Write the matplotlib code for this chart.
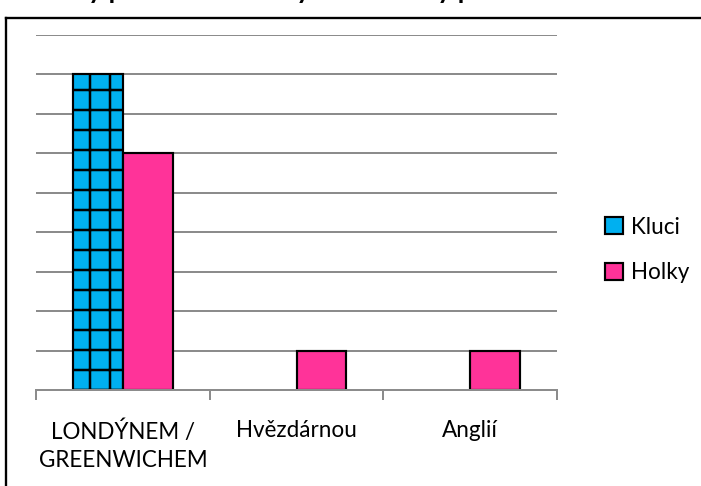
import matplotlib
matplotlib.use("Agg")
import matplotlib.pyplot as plt
from matplotlib.lines import Line2D
import numpy as np

categories = ["LONDÝNEM /\nGREENWICHEM", "Hvězdárnou", "Anglií"]
kluci = [8, 0, 0]
holky = [6, 1, 1]
series_names = ["Kluci", "Holky"]

plt.rcParams['font.family'] = ['Lato', 'DejaVu Sans']
plt.rcParams['hatch.linewidth'] = 1.5
plt.rcParams['hatch.color'] = '#111111'

DPI = 120
fig = plt.figure(figsize=(701 / DPI, 486 / DPI), dpi=DPI)
ax = fig.add_axes([36 / 701, 1 - 390 / 486, (557 - 36) / 701, (390 - 35) / 486])

x = np.arange(len(categories))
w = 0.287
b1 = ax.bar(x - w / 2, kluci, w, color='#00B0F0', edgecolor='black', linewidth=1.3,
            hatch='+', label=series_names[0], zorder=3)
b2 = ax.bar(x + w / 2, holky, w, color='#FF3399', edgecolor='black', linewidth=1.3,
            label=series_names[1], zorder=3)
for r in b1:
    if r.get_height() == 0:
        r.set_visible(False)

ax.set_xlim(-0.5, len(categories) - 0.5)
ax.set_ylim(0, 9)
ax.set_yticks(np.arange(0, 10))
ax.yaxis.grid(True, color='#8c8c8c', linewidth=1.2, zorder=0)
ax.tick_params(axis='y', left=False, labelleft=False)
for s in ['left', 'right', 'top']:
    ax.spines[s].set_visible(False)
ax.spines['bottom'].set_color('#8c8c8c')
ax.spines['bottom'].set_linewidth(1.2)
ax.spines['bottom'].set_zorder(4)

ax.set_xticks(x)
ax.set_xticklabels(categories, fontsize=13.5, linespacing=1.42)
ax.tick_params(axis='x', length=0, pad=18)
ax.set_xticks(np.arange(-0.5, len(categories)), minor=True)
ax.tick_params(axis='x', which='minor', length=6, width=1.2, color='#8c8c8c', direction='out')

leg = fig.legend(loc='center left', bbox_to_anchor=(585 / 701, 1 - 250 / 486), frameon=False,
                 fontsize=13.5, handlelength=0.8, handleheight=0.8, handletextpad=0.35,
                 labelspacing=1.1)
for h in leg.legend_handles:
    h.set_hatch(None)
    h.set_linewidth(1.3)

# outer frame (left and top edges, the rest runs off the picture)
top = 1 - 18 / 486
left = 6 / 701
fig.lines.append(Line2D([left, left], [-0.05, top], transform=fig.transFigure,
                        color='black', linewidth=1.4))
fig.lines.append(Line2D([left, 1.05], [top, top], transform=fig.transFigure,
                        color='black', linewidth=1.4))
# title cut off at the top of the picture
fig.text(20 / 701, 1 + 0.5 / 486, "Čím by pro tebe mohl být … a čím by pro", fontsize=16,
         fontweight='bold', ha='left', va='baseline')

fig.savefig("out.png", dpi=DPI)
